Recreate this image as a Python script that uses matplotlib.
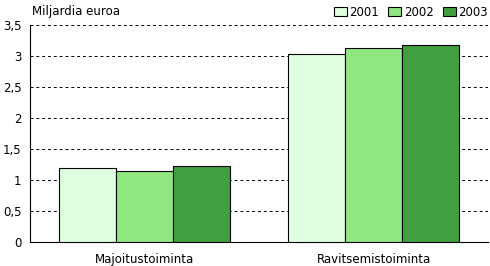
import numpy as np
import matplotlib
matplotlib.use("Agg")
import matplotlib.pyplot as plt
from matplotlib.patches import Patch

categories = ["Majoitustoiminta", "Ravitsemistoiminta"]
years = ["2001", "2002", "2003"]
values_2001 = [1.19, 3.03]
values_2002 = [1.145, 3.13]
values_2003 = [1.22, 3.18]
colors = ["#e0ffe0", "#90e680", "#40a040"]

plt.rcParams["font.family"] = ["DejaVu Sans"]
plt.rcParams["font.size"] = 8.5

fig = plt.figure(figsize=(4.9, 2.66), dpi=100)
ax = fig.add_axes([30 / 490, 24 / 266, 458 / 490, 217 / 266])

x = np.arange(len(categories))
w = 0.25
series = [values_2001, values_2002, values_2003]
for i, vals in enumerate(series):
    ax.bar(x + (i - 1) * w, vals, width=w, color=colors[i],
           edgecolor="black", linewidth=0.8, zorder=3)

ax.set_xlim(-0.5, 1.5)
ax.set_ylim(0, 3.5)
ax.set_yticks(np.arange(0, 3.51, 0.5))
ax.set_yticklabels(["0", "0,5", "1", "1,5", "2", "2,5", "3", "3,5"])
ax.set_xticks(x)
ax.set_xticklabels(categories)
ax.tick_params(axis="y", length=0, pad=6)
ax.tick_params(axis="x", length=0, pad=8)
ax.yaxis.grid(True, linestyle=(0, (3, 3)), color="black", linewidth=0.7, zorder=0)
for s in ["top", "right"]:
    ax.spines[s].set_visible(False)
ax.spines["left"].set_linewidth(0.8)
ax.spines["bottom"].set_linewidth(0.8)

fig.text(32 / 490, 1 - 12 / 266, "Miljardia euroa", va="center", ha="left")

handles = [Patch(facecolor=c, edgecolor="black", linewidth=0.8) for c in colors]
fig.legend(handles, years, loc="center right", bbox_to_anchor=(488 / 490, 1 - 12 / 266),
           ncol=3, frameon=False, handlelength=1.1, handleheight=0.9,
           handletextpad=0.2, columnspacing=0.8, borderpad=0, borderaxespad=0)

fig.savefig("out.png", dpi=100)
